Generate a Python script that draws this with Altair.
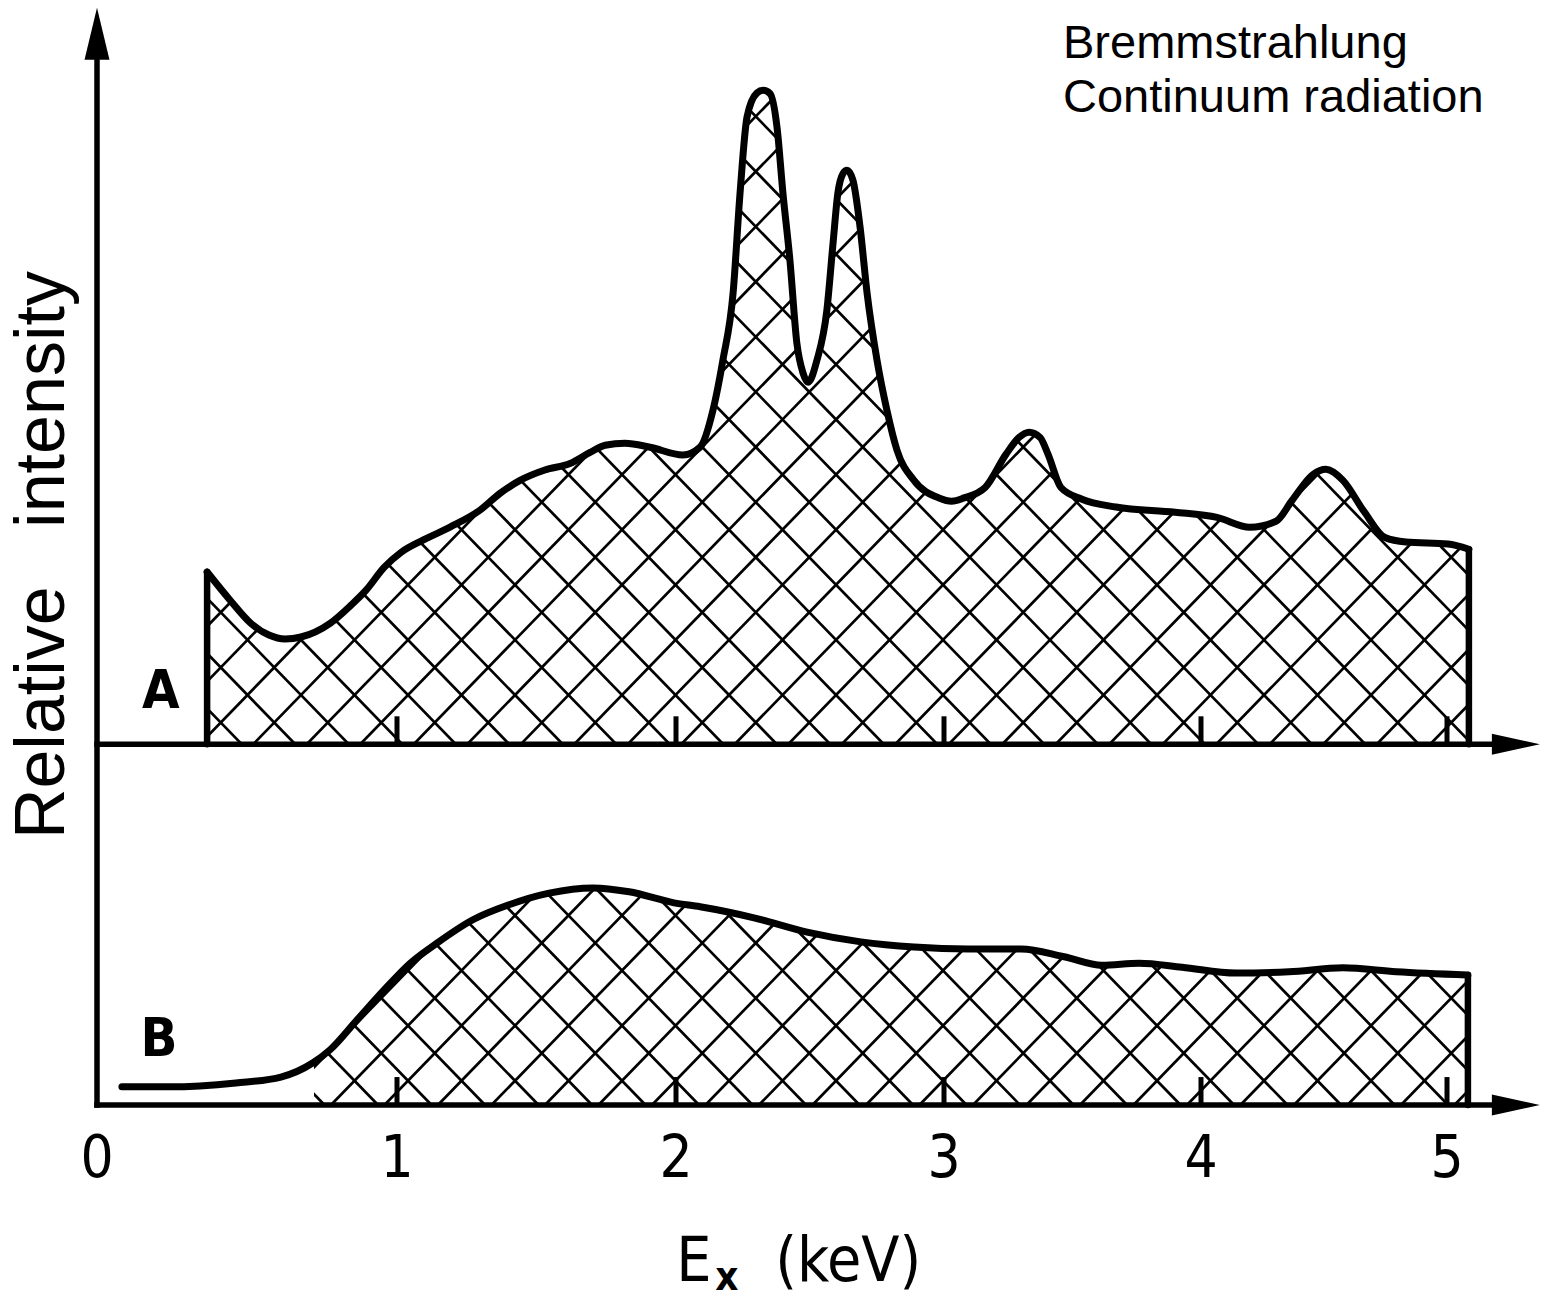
import altair as alt
import pandas as pd

W, H = 1556, 1304

# Energy axis: tick values (keV) and where each tick sits across the drawing
KEV_TICKS = [0, 1, 2, 3, 4, 5]
KEV_PX = [97, 397, 676, 944, 1201, 1447]

# Vertical scale: relative intensity units, 0 on the lower baseline
BASE_PX = 1105
PX_PER_UNIT = 6.5
Y_TOP = BASE_PX / PX_PER_UNIT

A_OFFSET = 55.5      # trace A is drawn on its own baseline above trace B
TICK_LEN = 4.3
B_HATCH_FROM = 0.72  # trace B is shaded from here on

# Trace A: continuum with characteristic lines
A_KEV = [0.367, 0.443, 0.513, 0.573, 0.627, 0.68, 0.777, 0.847, 0.897, 0.957,
         1.014, 1.093, 1.19, 1.297, 1.369, 1.441, 1.53, 1.62, 1.692, 1.746,
         1.817, 1.907, 2.026, 2.09, 2.138, 2.175, 2.213, 2.239, 2.265, 2.302,
         2.325, 2.351, 2.377, 2.399, 2.425, 2.451, 2.474, 2.493, 2.526, 2.563,
         2.586, 2.604, 2.623, 2.638, 2.66, 2.687, 2.713, 2.75, 2.787, 2.825,
         2.888, 2.981, 3.03, 3.078, 3.16, 3.241, 3.292, 3.331, 3.374, 3.405,
         3.455, 3.537, 3.669, 3.899, 4.065, 4.199, 4.305, 4.37, 4.455, 4.508,
         4.577, 4.663, 4.748, 4.833, 5.004, 5.089]
A_INT = [26.5, 22.2, 18.6, 16.8, 16.2, 16.5, 18.6, 21.4, 23.7, 27.2,
         29.5, 31.4, 33.4, 36.0, 38.6, 40.6, 42.2, 43.2, 44.9, 46.0,
         46.3, 45.7, 44.5, 45.7, 51.4, 59.1, 69.4, 84.8, 96.5, 100.2,
         100.6, 100.1, 94.9, 84.8, 74.5, 61.7, 57.1, 55.7, 59.1, 66.8,
         77.1, 84.8, 87.8, 88.3, 86.8, 79.5, 69.4, 59.1, 51.4, 45.2,
         40.6, 37.9, 37.4, 37.9, 39.5, 44.6, 47.2, 48.0, 47.2, 44.6,
         39.5, 37.7, 36.5, 35.7, 34.9, 33.4, 34.3, 37.5, 41.5, 42.3,
         40.6, 35.8, 31.8, 31.1, 30.8, 30.0]

# Trace B: bremsstrahlung continuum only
B_KEV = [0.083, 0.24, 0.463, 0.613, 0.72, 0.777, 0.867, 0.957, 1.047, 1.143,
         1.272, 1.401, 1.545, 1.703, 1.832, 1.993, 2.09, 2.291, 2.489, 2.69,
         2.888, 3.093, 3.3, 3.467, 3.615, 3.759, 3.926, 4.142, 4.358, 4.577,
         4.793, 5.085]
B_INT = [2.8, 2.8, 3.4, 4.3, 6.5, 8.5, 13.1, 17.7, 21.8, 24.9,
         28.5, 30.8, 32.6, 33.4, 32.8, 31.1, 30.5, 28.8, 26.6, 25.1,
         24.3, 24.0, 24.0, 22.8, 21.5, 21.8, 21.2, 20.3, 20.5, 21.1,
         20.5, 20.0]

TICK_LABELS = ["0", "1", "2", "3", "4", "5"]
TITLE_LINES = ["Bremmstrahlung", "Continuum radiation"]

# Arrow tips of the axes
Y_TIP = 168.8
X_TIP = 5.378
Y_HEAD_MID = Y_TIP - 4.0
X_HEAD_MID = 5.28

LETTERING = "DejaVu Sans Condensed, DejaVu Sans"
INK = "#000000"

xs = alt.Scale(domain=KEV_TICKS, range=KEV_PX, nice=False, zero=False)
ys = alt.Scale(domain=[0, Y_TOP], range=[BASE_PX, 0], nice=False, zero=False)


def X(field):
    return alt.X(field, type="quantitative", scale=xs, axis=None)


def Y(field):
    return alt.Y(field, type="quantitative", scale=ys, axis=None)


a_df = pd.DataFrame({"keV": A_KEV, "val": A_INT})
b_df = pd.DataFrame({"keV": B_KEV, "val": B_INT})

# ---- cross-hatch texture (own pattern space, masked afterwards) ----
HATCH_GAP = 53.5
HATCH_SLOPE = 1.03
HX0, HY0 = 408, 695
rows = []
for k in range(-32, 33):
    x0 = HX0 + k * HATCH_GAP
    for s in (1, -1):
        xa = x0 + s * (30 - HY0) / HATCH_SLOPE
        xb = x0 + s * (1115 - HY0) / HATCH_SLOPE
        if max(xa, xb) < 150 or min(xa, xb) > 1520:
            continue
        rows.append({"hx": xa, "hy": 30, "hx2": xb, "hy2": 1115})
hatch_df = pd.DataFrame(rows)

hatch = alt.Chart(hatch_df).mark_rule(color=INK, strokeWidth=2.7).encode(
    x=alt.X("hx:Q", scale=alt.Scale(domain=[0, W], range=[0, W], nice=False, zero=False), axis=None),
    y=alt.Y("hy:Q", scale=alt.Scale(domain=[0, H], range=[0, H], nice=False, zero=False), axis=None),
    x2="hx2:Q",
    y2="hy2:Q",
)

# ---- white masks: keep the texture only under each trace ----
mask_a = alt.Chart(a_df).transform_calculate(
    y="datum.val + %f" % A_OFFSET
).mark_area(color="white", interpolate="monotone", stroke="white", strokeWidth=1).encode(
    x=X("keV"), y=Y("y"), y2=alt.datum(Y_TOP + 10)
)
mask_b = alt.Chart(b_df).transform_filter(
    "datum.keV >= %f" % B_HATCH_FROM
).mark_area(color="white", interpolate="monotone", stroke="white", strokeWidth=1).encode(
    x=X("keV"), y=Y("val"), y2=alt.datum(A_OFFSET)
)
rect_df = pd.DataFrame([
    {"x": -0.5, "x2": A_KEV[0], "y": A_OFFSET, "y2": Y_TOP + 10},
    {"x": A_KEV[-1], "x2": 5.8, "y": A_OFFSET, "y2": Y_TOP + 10},
    {"x": -0.5, "x2": B_HATCH_FROM, "y": 0, "y2": A_OFFSET},
    {"x": B_KEV[-1], "x2": 5.8, "y": 0, "y2": A_OFFSET},
    {"x": -0.5, "x2": 5.8, "y": -45, "y2": 0},
])
mask_rects = alt.Chart(rect_df).mark_rect(color="white", stroke="white", strokeWidth=2).encode(
    x=X("x"), x2="x2:Q", y=Y("y"), y2="y2:Q"
)

# ---- small ticks standing on each baseline ----
tick_df = pd.DataFrame(
    [{"x": k, "y": base, "y2": base + TICK_LEN} for base in (0, A_OFFSET) for k in KEV_TICKS[1:]]
)
ticks = alt.Chart(tick_df).mark_rule(color=INK, strokeWidth=5).encode(
    x=X("x"), y=Y("y"), y2="y2:Q"
)

# ---- the two traces ----
line_a = alt.Chart(a_df).transform_calculate(
    y="datum.val + %f" % A_OFFSET
).mark_line(color=INK, strokeWidth=7, interpolate="monotone",
            strokeJoin="round", strokeCap="round").encode(x=X("keV"), y=Y("y"))
line_b = alt.Chart(b_df).mark_line(color=INK, strokeWidth=7, interpolate="monotone",
                                   strokeJoin="round", strokeCap="round").encode(
    x=X("keV"), y=Y("val"))

edge_df = pd.DataFrame([
    {"x": A_KEV[0], "y": A_OFFSET, "y2": A_OFFSET + A_INT[0]},
    {"x": A_KEV[-1], "y": A_OFFSET, "y2": A_OFFSET + A_INT[-1]},
    {"x": B_KEV[-1], "y": 0, "y2": B_INT[-1]},
])
edges = alt.Chart(edge_df).mark_rule(color=INK, strokeWidth=6.5, strokeCap="round").encode(
    x=X("x"), y=Y("y"), y2="y2:Q"
)

# ---- axes with arrow heads ----
axis_df = pd.DataFrame([
    {"x": 0, "x2": 0, "y": 0, "y2": Y_HEAD_MID},
    {"x": 0, "x2": X_HEAD_MID, "y": 0, "y2": 0},
    {"x": 0, "x2": X_HEAD_MID, "y": A_OFFSET, "y2": A_OFFSET},
])
axes = alt.Chart(axis_df).mark_rule(color=INK, strokeWidth=5.5, strokeCap="square").encode(
    x=X("x"), x2="x2:Q", y=Y("y"), y2="y2:Q"
)
up_head = alt.Chart(pd.DataFrame({"x": [0], "y": [Y_HEAD_MID]})).mark_point(
    shape="M0,-1L0.48,1L-0.48,1Z", size=2704, filled=True, color=INK, opacity=1, strokeWidth=0
).encode(x=X("x"), y=Y("y"))
right_heads = alt.Chart(pd.DataFrame({"x": [X_HEAD_MID, X_HEAD_MID], "y": [0, A_OFFSET]})).mark_point(
    shape="M1,0L-1,0.44L-1,-0.44Z", size=2304, filled=True, color=INK, opacity=1, strokeWidth=0
).encode(x=X("x"), y=Y("y"))

# ---- lettering ----
tick_text = alt.Chart(pd.DataFrame({"x": KEV_TICKS, "t": TICK_LABELS, "y": [-8.5] * 6})).mark_text(
    font=LETTERING, fontSize=58, color=INK, align="center", baseline="middle"
).encode(x=X("x"), y=Y("y"), text="t:N")

e_text = alt.Chart(pd.DataFrame({"x": [2.067], "y": [-24.2]})).mark_text(
    font=LETTERING, fontSize=62, color=INK, align="center", baseline="middle", text="E"
).encode(x=X("x"), y=Y("y"))
sub_text = alt.Chart(pd.DataFrame({"x": [2.067], "y": [-26.6]})).mark_text(
    font=LETTERING, fontSize=40, fontWeight="bold", color=INK, align="center",
    baseline="middle", dx=33, text="x"
).encode(x=X("x"), y=Y("y"))
kev_text = alt.Chart(pd.DataFrame({"x": [2.37], "y": [-24.2]})).mark_text(
    font=LETTERING, fontSize=62, color=INK, align="left", baseline="middle", text="(keV)"
).encode(x=X("x"), y=Y("y"))

panel_df = pd.DataFrame({"x": [0.213, 0.207], "y": [A_OFFSET + 8.0, 10.0], "t": ["A", "B"]})
panel_text = alt.Chart(panel_df).mark_text(
    font=LETTERING, fontSize=54, fontWeight="bold", color=INK, align="center", baseline="middle"
).encode(x=X("x"), y=Y("y"), text="t:N")

ytitle = alt.Chart(pd.DataFrame({"x": [-0.18], "y": [84.6]})).mark_text(
    font="Liberation Sans, Arial", fontSize=70, color=INK, angle=270, align="center",
    baseline="middle", text="Relative\u00a0\u00a0\u00a0intensity"
).encode(x=X("x"), y=Y("y"))

title = alt.Chart(pd.DataFrame({"x": [3.463], "y": [161.1]})).mark_text(
    font="Liberation Sans, Arial", fontSize=47, color=INK, align="left",
    baseline="alphabetic", lineHeight=54, text=TITLE_LINES
).encode(x=X("x"), y=Y("y"))

drawing = alt.layer(
    mask_a, mask_b, mask_rects, ticks, line_a, line_b, edges, axes,
    up_head, right_heads, tick_text, e_text, sub_text, kev_text,
    panel_text, ytitle, title,
)

chart = alt.layer(hatch, drawing).resolve_scale(
    x="independent", y="independent"
).properties(
    width=W, height=H, autosize=alt.AutoSizeParams(type="none"), padding=0,
    background="white",
).configure_view(stroke=None)

chart.save("out.html", embed_options={"renderer": "svg", "actions": False})
